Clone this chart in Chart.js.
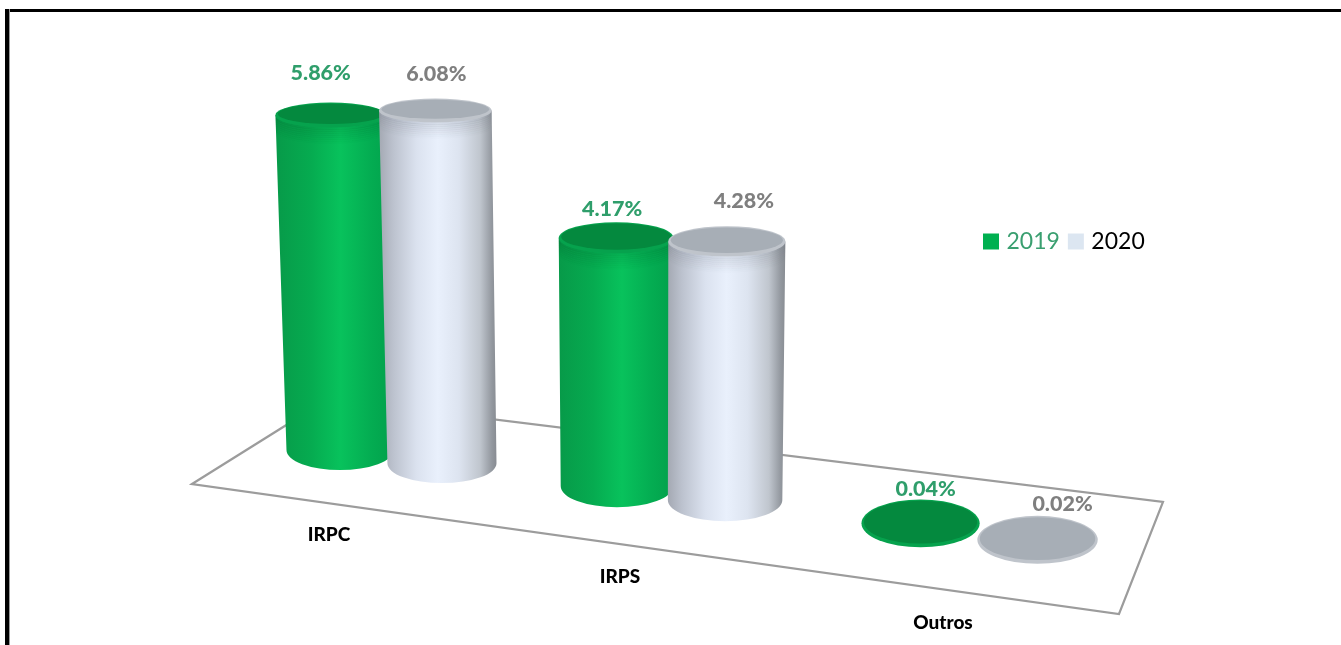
<!DOCTYPE html>
<html lang="pt">
<head>
<meta charset="utf-8">
<title>IRPC, IRPS, Outros</title>
<script src="https://cdn.jsdelivr.net/npm/chart.js@4"></script>
<style>
html,body{margin:0;padding:0;background:#fff;overflow:hidden}
#wrap{position:relative;width:1341px;height:645px}
#frameTop{position:absolute;left:5px;right:0;top:9px;height:3px;background:#000}
#frameLeft{position:absolute;left:5px;top:9px;bottom:0;width:4px;background:#000;border-right:1px solid #999}
canvas{position:absolute;left:0;top:0}
</style>
</head>
<body>
<div id="wrap">
<div id="frameTop"></div><div id="frameLeft"></div>
<canvas id="c" width="1341" height="645"></canvas>
</div>
<script>
// ---- data ----
const categories = ['IRPC', 'IRPS', 'Outros'];
const seriesNames = ['2019', '2020'];
const values2019 = [5.86, 4.17, 0.04];
const values2020 = [6.08, 4.28, 0.02];

// ---- look ----
const LABEL_FONT = 'Lato, Carlito, Calibri, sans-serif';
const legendColors = ['#00b050', '#dce6f1'];
const legendTextColors = ['#3a9f70', '#000000'];
const valueTextColors = ['#2f9e6b', '#7f7f7f'];
const bodyStops = [
  [[0, '#079a49'], [0.3, '#06ab50'], [0.55, '#08c25c'], [0.8, '#04ad52'], [1, '#02a04b']],
  [[0, '#a4a9b3'], [0.12, '#bcc2ce'], [0.32, '#dbe2ef'], [0.5, '#e9f0fc'], [0.68, '#dde4f0'], [0.86, '#c0c6ce'], [0.96, '#93989f'], [1, '#888c92']]
];
const bevelTint = ['0,90,40', '110,115,125'];
const capRim = ['#06a24d', '#bfc4cb'];
const capFill = ['#04893e', '#a7aeb6'];

// ---- oblique view of the floor (the 3-D look of the original) ----
const view = {
  groupShift: [0, -14, 0],
  groupSpread: [0.98, 1.04, 1.125],
  floorRise: 190, floorX0: 340, floorSlope: 0.1306,
  heightBase: 0.994, heightK: 0.000146, heightX0: 570,
  radiusBase: 1.03, radiusK: 0.000183, radiusX0: 340,
  leanK: 0.00009, leanX0: 650,
  tiltBase: 24, tiltBottomK: 0.012, tiltTopK: 0.034,
  labelShift: [
    [[-10, -29.5], [-4, -13.5], [5, -10]],
    [[1, -24.5], [17, -25.5], [25, -12]]
  ],
  tickDx: [-62, -65, -36],
  tickY0: 535, tickX0: 329, tickSlope: 0.1436,
  frontSeries: [1, 1, 0],
  plane: [[192, 484], [328, 399], [1163, 502], [1119, 614]]
};

function cylinderOf(chart, s, c) {
  const el = chart.getDatasetMeta(s).data[c];
  const tick = chart.scales.x.getPixelForTick(c);
  const cx = tick + view.groupShift[c] + (el.x - tick) * view.groupSpread[c];
  const k = view.heightBase + view.heightK * (cx - view.heightX0);
  const h = (el.base - el.y) * k;
  const yBot = el.base - view.floorRise + view.floorSlope * (cx - view.floorX0);
  const rxBot = el.width / 2 * (view.radiusBase + view.radiusK * (cx - view.radiusX0));
  return {
    cxBot: cx, yBot, rxBot,
    cxTop: cx + view.leanK * (cx - view.leanX0) * h,
    yTop: yBot - h,
    rxTop: rxBot + h * 0.005,
    ryBot: view.tiltBase - h * view.tiltBottomK,
    ryTop: view.tiltBase - h * view.tiltTopK,
    h
  };
}

function drawCylinder(ctx, s, g) {
  if (g.h > 5) {
    const x0 = Math.min(g.cxTop - g.rxTop, g.cxBot - g.rxBot);
    const x1 = Math.max(g.cxTop + g.rxTop, g.cxBot + g.rxBot);
    const grad = ctx.createLinearGradient(x0, 0, x1, 0);
    bodyStops[s].forEach(st => grad.addColorStop(st[0], st[1]));
    ctx.save();
    ctx.beginPath();
    ctx.moveTo(g.cxTop - g.rxTop, g.yTop);
    ctx.lineTo(g.cxBot - g.rxBot, g.yBot);
    ctx.ellipse(g.cxBot, g.yBot, g.rxBot, g.ryBot, 0, Math.PI, 0, true);
    ctx.lineTo(g.cxTop + g.rxTop, g.yTop);
    ctx.closePath();
    ctx.fillStyle = grad;
    ctx.fill();
    ctx.clip();
    // soft bevel fading out just under the cap
    ctx.lineWidth = 2.4;
    for (let d = 1; d <= 15; d += 2) {
      ctx.beginPath();
      ctx.ellipse(g.cxTop, g.yTop + d, g.rxTop, g.ryTop, 0, Math.PI, 0, true);
      ctx.strokeStyle = 'rgba(' + bevelTint[s] + ',' + (0.16 * (1 - d / 16)).toFixed(3) + ')';
      ctx.stroke();
    }
    ctx.restore();
  }
  ctx.beginPath();
  ctx.ellipse(g.cxTop, g.yTop, g.rxTop, g.ryTop, 0, 0, Math.PI * 2);
  ctx.fillStyle = capRim[s];
  ctx.fill();
  ctx.beginPath();
  ctx.ellipse(g.cxTop, g.yTop - 1.2, g.rxTop - 2.5, g.ryTop - 2.5, 0, 0, Math.PI * 2);
  ctx.fillStyle = capFill[s];
  ctx.fill();
}

const cylinderPlugin = {
  id: 'cylinders',
  afterLayout(chart) {
    const l = chart.legend;
    const w = l.width, h = l.height;
    l.left = 975; l.right = l.left + w;
    l.top = 218; l.bottom = l.top + h;
  },
  beforeDatasetsDraw(chart) {
    const ctx = chart.ctx;
    ctx.save();
    ctx.beginPath();
    view.plane.forEach((p, i) => i ? ctx.lineTo(p[0], p[1]) : ctx.moveTo(p[0], p[1]));
    ctx.closePath();
    ctx.lineWidth = 2.2;
    ctx.strokeStyle = '#9c9c9c';
    ctx.stroke();
    ctx.restore();
  },
  beforeDatasetDraw() { return false; },
  afterDatasetsDraw(chart) {
    const ctx = chart.ctx;
    ctx.save();
    categories.forEach((_, c) => {
      const front = view.frontSeries[c];
      [1 - front, front].forEach(s => drawCylinder(ctx, s, cylinderOf(chart, s, c)));
    });
    ctx.textAlign = 'center';
    ctx.textBaseline = 'middle';
    categories.forEach((_, c) => {
      seriesNames.forEach((__, s) => {
        const g = cylinderOf(chart, s, c);
        const off = view.labelShift[s][c];
        const v = chart.data.datasets[s].data[c];
        ctx.font = '900 21.5px ' + LABEL_FONT;
        ctx.fillStyle = valueTextColors[s];
        ctx.fillText(v.toFixed(2) + '%', g.cxTop + off[0], g.yTop - g.ryTop + off[1]);
      });
      const xs = chart.scales.x;
      const tx = xs.getPixelForTick(c) + view.tickDx[c];
      ctx.font = '900 19px ' + LABEL_FONT;
      ctx.fillStyle = '#000';
      ctx.fillText(xs.getLabelForValue(c), tx, view.tickY0 + view.tickSlope * (tx - view.tickX0));
    });
    ctx.restore();
  }
};

new Chart(document.getElementById('c'), {
  type: 'bar',
  data: {
    labels: categories,
    datasets: [
      { label: seriesNames[0], data: values2019, backgroundColor: legendColors[0] },
      { label: seriesNames[1], data: values2020, backgroundColor: legendColors[1] }
    ]
  },
  options: {
    responsive: false,
    animation: false,
    events: [],
    layout: { padding: { left: 244, right: 215, top: 0, bottom: 5 } },
    datasets: { bar: { barPercentage: 1, categoryPercentage: 0.7075 } },
    scales: {
      x: { display: false },
      y: { display: false, min: 0, max: 10 }
    },
    plugins: {
      tooltip: { enabled: false },
      legend: {
        position: 'top',
        align: 'start',
        labels: {
          boxWidth: 8, boxHeight: 8, padding: 12,
          font: { family: LABEL_FONT, size: 23 },
          generateLabels: () => seriesNames.map((n, i) => ({
            text: n, datasetIndex: i, fillStyle: legendColors[i], strokeStyle: legendColors[i],
            lineWidth: 8, lineJoin: 'miter', fontColor: legendTextColors[i]
          }))
        }
      }
    }
  },
  plugins: [cylinderPlugin]
});
</script>
</body>
</html>
